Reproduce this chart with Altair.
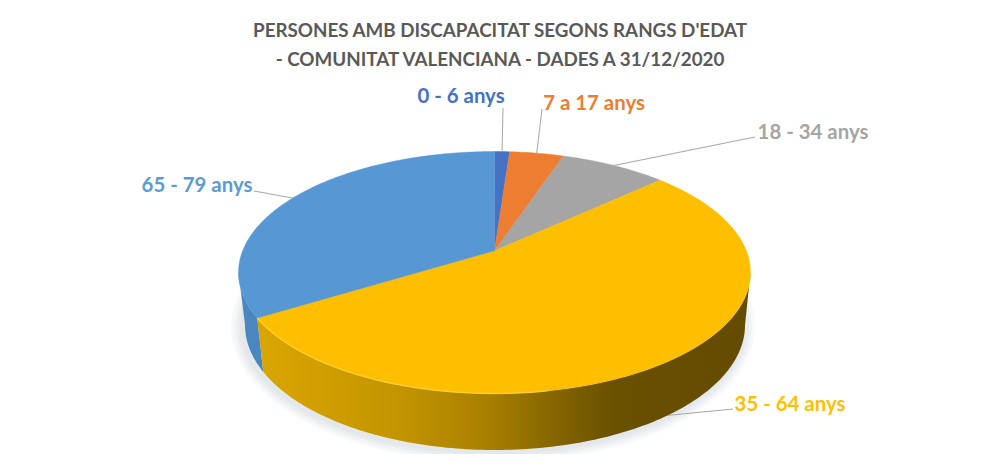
import math
import altair as alt
import numpy as np

labels = ["0 - 6 anys", "7 a 17 anys", "18 - 34 anys", "35 - 64 anys", "65 - 79 anys"]
shares = [1.13, 4.06, 8.0, 53.1, 33.71]
colors = ["#4472C4", "#ED7D31", "#A5A5A5", "#FDBF00", "#5797D3"]
text_colors = ["#4472C4", "#ED7D31", "#A5A5A5", "#FFC000", "#5B9BD5"]
title_lines = ["PERSONES AMB DISCAPACITAT SEGONS RANGS D'EDAT",
               "- COMUNITAT VALENCIANA - DADES A 31/12/2020"]

# Layout (plot-area pixels; the page margin is 8 px)
W, H = 984, 446
TOP = dict(cx=486.5, cy=264.5, rx=256, ry=121)
BOT = dict(cx=487, cy=317, rx=250, ry=125)
E = -0.18  # perspective shift of the pie centre on the top face
label_xy = [(453, 88.5), (586, 95.5), (805, 124.5), (782, 396.5), (189, 178)]
leader_end = [(495, 100), (534, 101), (747, 129), (725, 401), (246, 183)]


def persp(theta):
    u, v = math.sin(theta), -math.cos(theta)
    d = 1 + E * v
    return u * math.sqrt(1 - E * E) / d, (v + E) / d


def pt(theta, e):
    u, v = persp(theta)
    return [e["cx"] + e["rx"] * u, e["cy"] + e["ry"] * v]


def arc(a, b, e):
    n = max(2, int(abs(b - a) * 60))
    return [pt(t, e) for t in np.linspace(a, b, n)]


def feature(kind, coords):
    if kind == "Polygon":
        coords = [coords + [coords[0]]]
    return {"type": "Feature", "properties": {}, "geometry": {"type": kind, "coordinates": coords}}


def shape(features, **mark):
    return (alt.Chart(alt.Data(values=features))
            .mark_geoshape(**mark)
            .project(type="identity", scale=1, translate=[0, 0]))


edges = np.concatenate([[0], np.cumsum(shares)]) / sum(shares) * 2 * math.pi
apex = [TOP["cx"], TOP["cy"] + E * TOP["ry"]]
layers = []

# Soft shadow under the disc
for grow in [12, 9, 6, 3]:
    e = dict(cx=BOT["cx"] - 2, cy=BOT["cy"] + 2, rx=BOT["rx"] + grow, ry=BOT["ry"] + grow * 0.9)
    layers.append(shape([feature("Polygon", arc(0, 2 * math.pi, e))],
                        fill="#8A94A6", fillOpacity=0.06, stroke=None))

# Side walls run between the ellipse's left and right extremes
split = edges[4]
right_extreme = math.acos(E)
left_extreme = 2 * math.pi - right_extreme
yellow_side = arc(right_extreme, split, TOP) + arc(split, right_extreme, BOT)
blue_side = arc(split, left_extreme, TOP) + arc(left_extreme, split, BOT)
grad = alt.Gradient(gradient="linear", x1=0, x2=1, y1=0, y2=0, stops=[
    alt.GradientStop(offset=0, color="#DAA600"),
    alt.GradientStop(offset=0.29, color="#C39400"),
    alt.GradientStop(offset=0.47, color="#A87F00"),
    alt.GradientStop(offset=0.58, color="#8A6A00"),
    alt.GradientStop(offset=0.72, color="#6A5000"),
    alt.GradientStop(offset=1, color="#634B00"),
])
layers.append(shape([feature("Polygon", blue_side)], fill="#4A86C0", stroke=None))
layers.append(shape([feature("Polygon", yellow_side)], fill=grad, stroke=None))

# Top face
for i, c in enumerate(colors):
    poly = [apex] + arc(edges[i], edges[i + 1], TOP)
    layers.append(shape([feature("Polygon", poly)], fill=c, stroke=c, strokeWidth=0.4))

# Bright rim on the front edge
layers.append(shape([feature("LineString", arc(math.radians(170), split, TOP))],
                    filled=False, stroke="#FFD23C", strokeWidth=1.4, strokeOpacity=0.8))

# Leader lines
for i in range(5):
    mid = (edges[i] + edges[i + 1]) / 2
    start = pt(mid, BOT if i == 3 else TOP)
    layers.append(shape([feature("LineString", [start, list(leader_end[i])])],
                        filled=False, stroke="#A6A6A6", strokeWidth=1))

# Labels
for i in range(5):
    layers.append(
        alt.Chart(alt.Data(values=[{"t": labels[i], "x": label_xy[i][0], "y": label_xy[i][1]}]))
        .mark_text(font="Lato", fontWeight="bold", fontSize=20.4, color=text_colors[i],
                   align="center", baseline="middle")
        .encode(longitude="x:Q", latitude="y:Q", text="t:N")
        .project(type="identity", scale=1, translate=[0, 0])
    )

chart = alt.layer(*layers).properties(
    width=W, height=H,
    title=alt.TitleParams(text=title_lines, font="Lato", fontSize=18.8, fontWeight="bold",
                          color="#595959", lineHeight=29, anchor="middle", offset=-62),
    padding=0, autosize=alt.AutoSizeParams(type="none"),
).configure_view(stroke=None)

chart.save("out.html", embed_options={"renderer": "svg", "actions": False})
